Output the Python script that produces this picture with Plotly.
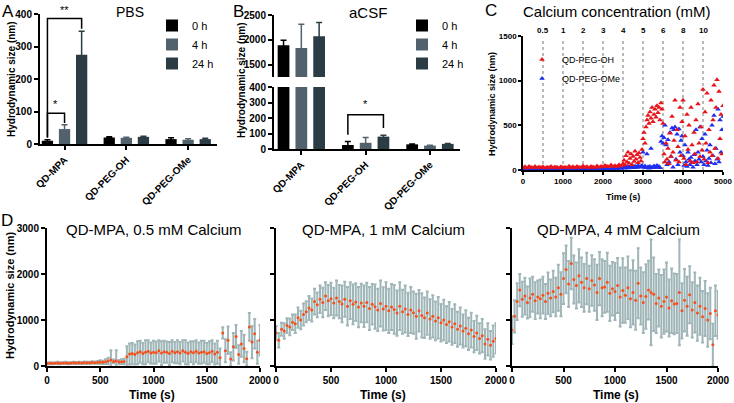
import plotly.graph_objects as go

W, H = 734, 403
FONT = "Arial, Liberation Sans, sans-serif"

# ---- panel A / B : bar charts ----
GROUPS = ["QD-MPA", "QD-PEG-OH", "QD-PEG-OMe"]
TIMEPOINTS = ["0 h", "4 h", "24 h"]
BAR_COLORS = ["#000000", "#52626d", "#2b3c45"]

PBS_0H = [10, 20, 15]
PBS_4H = [46, 19, 13]
PBS_24H = [275, 22, 15]
PBS_0H_ERR = [3, 2, 4]
PBS_4H_ERR = [13, 2, 3]
PBS_24H_ERR = [72, 2, 3]

ACSF_0H = [1890, 26, 30]
ACSF_4H = [1835, 40, 22]
ACSF_24H = [2070, 80, 33]
ACSF_0H_ERR = [100, 23, 3]
ACSF_4H_ERR = [480, 35, 3]
ACSF_24H_ERR = [280, 8, 3]

# ---- panel C : calcium titration ----
CA_TIMES = [500, 1000, 1500, 2000, 2500, 3000, 3500, 4000, 4500]
CA_LABELS = ["0.5", "1", "2", "3", "4", "5", "6", "8", "10"]

C_TIME = [0, 50, 100, 150, 200, 250, 300, 350, 400, 450, 500, 550, 600, 650, 700, 750, 800, 850, 900, 950,
          1000, 1050, 1100, 1150, 1200, 1250, 1300, 1350, 1400, 1450, 1500, 1550, 1600, 1650, 1700, 1750,
          1800, 1850, 1900, 1950, 2000, 2050, 2100, 2150, 2200, 2250, 2300, 2350, 2400, 2450,
          2500, 2525, 2550, 2575, 2600, 2625, 2650, 2675, 2700, 2725, 2750, 2775, 2800, 2825, 2850, 2875,
          2900, 2925, 2950, 2975, 3000, 3025, 3050, 3075, 3100, 3125, 3150, 3175, 3200, 3225, 3250, 3275,
          3300, 3325, 3350, 3375, 3400, 3425, 3450, 3475, 3500, 3525, 3550, 3575, 3600, 3625, 3650, 3675,
          3700, 3725, 3750, 3775, 3800, 3825, 3850, 3875, 3900, 3925, 3950, 3975, 4000, 4025, 4050, 4075,
          4100, 4125, 4150, 4175, 4200, 4225, 4250, 4275, 4300, 4325, 4350, 4375, 4400, 4425, 4450, 4475,
          4500, 4525, 4550, 4575, 4600, 4625, 4650, 4675, 4700, 4725, 4750, 4775, 4800, 4825, 4850, 4875,
          4900, 4925, 4950, 4975, 5000]
C_PEG_OH = [28, 35, 22, 40, 30, 26, 38, 24, 33, 29, 36, 21, 31, 27, 39, 25, 34, 30, 23, 37,
            28, 32, 26, 41, 29, 35, 24, 38, 31, 27, 44, 30, 36, 25, 40, 33, 28, 45, 31, 38,
            35, 50, 42, 36, 55, 40, 48, 38, 60, 45,
            70, 110, 55, 160, 90, 200, 75, 130, 180, 60, 150, 95, 210, 120, 170, 80, 190, 140, 100, 230,
            350, 420, 300, 480, 560, 610, 520, 650, 580, 700, 540, 620, 680, 590, 720, 640, 700, 560, 750, 680,
            520, 180, 90, 300, 120, 240, 70, 410, 150, 600, 200, 330, 780, 110, 450, 260, 90, 700, 160, 540,
            780, 130, 380, 60, 620, 230, 500, 100, 700, 280, 80, 420, 180, 560, 90, 740, 300, 150, 480, 220,
            900, 120, 650, 300, 860, 80, 450, 200, 780, 160, 560, 950, 240, 700, 1010, 130, 880, 350, 620, 180,
            720]
C_PEG_OME = [8, 12, 5, 15, 10, 7, 13, 9, 11, 6, 14, 8, 10, 12, 5, 9, 13, 7, 11, 10,
             8, 14, 6, 12, 9, 11, 7, 13, 10, 8, 12, 9, 15, 7, 11, 10, 13, 8, 12, 9,
             14, 10, 16, 12, 18, 14, 20, 15, 22, 18,
             25, 30, 20, 35, 28, 40, 22, 33, 45, 30, 38, 25, 42, 35, 28, 48, 32, 40, 36, 50,
             200, 30, 45, 25, 180, 35, 20, 40, 240, 30, 25, 45, 35, 28, 50, 30, 40, 25, 320, 380,
             300, 360, 500, 280, 60, 340, 90, 420, 150, 470, 30, 450, 480, 120, 400, 60, 460, 200, 330, 380,
             160, 50, 280, 90, 40, 200, 120, 60, 140, 80, 30, 170, 100, 450, 60, 200, 120, 480, 90, 350,
             150, 60, 400, 100, 220, 50, 130, 280, 80, 500, 160, 610, 70, 240, 120, 680, 90, 560, 200, 450,
             600]

# ---- panel D : QD-MPA kinetics ----
D_TIME = [0, 25, 50, 75, 100, 125, 150, 175, 200, 225, 250, 275, 300, 325, 350, 375, 400, 425, 450, 475,
          500, 525, 550, 575, 600, 625, 650, 675, 700, 725, 750, 775, 800, 825, 850, 875, 900, 925, 950, 975,
          1000, 1025, 1050, 1075, 1100, 1125, 1150, 1175, 1200, 1225, 1250, 1275, 1300, 1325, 1350, 1375,
          1400, 1425, 1450, 1475, 1500, 1525, 1550, 1575, 1600, 1625, 1650, 1675, 1700, 1725, 1750, 1775,
          1800, 1825, 1850, 1875, 1900, 1925, 1950, 1975, 2000]

D_05MM = [55, 60, 58, 62, 65, 60, 63, 66, 62, 64, 68, 65, 70, 66, 72, 68, 70, 75, 72, 78,
          85, 80, 95, 110, 130, 100, 110, 85, 95, 100, 200, 260,
          270, 250, 290, 310, 270, 300, 320, 280, 300, 290, 330, 280, 310, 300, 270, 320, 290, 310, 280, 330,
          300, 270, 310, 290, 320, 280, 300, 310, 270, 290, 320, 260, 300, 180, 720, 330, 560, 150, 420, 640,
          250, 480, 380, 160, 850, 520, 700, 300, 560]
D_05MM_ERR = [20, 22, 18, 20, 25, 22, 20, 24, 22, 20, 25, 22, 24, 20, 25, 22, 24, 26, 25, 28,
              40, 35, 50, 70, 210, 40, 230, 45, 50, 60, 230, 230,
              230, 220, 250, 240, 230, 260, 240, 230, 250, 240, 230, 260, 240, 230, 250, 240, 230, 250, 240, 230,
              260, 240, 230, 250, 240, 230, 250, 240, 230, 250, 240, 230, 250, 200, 120, 250, 300, 150, 300, 250,
              200, 280, 300, 150, 300, 350, 320, 250, 330]

D_1MM = [720, 560, 800, 760, 880, 850, 950, 920, 1050, 1000, 1120, 1180, 1260, 1220, 1400, 1330, 1450, 1380,
         1520, 1420, 1460, 1370, 1480, 1400, 1350, 1450, 1300, 1420, 1340, 1390, 1280, 1370,
         1300, 1380, 1250, 1340, 1290, 1220, 1360, 1240, 1300, 1200, 1280, 1230, 1150, 1300, 1180, 1240,
         1120, 1220, 1160, 1080, 1200, 1100, 1050, 1150, 1020, 1080, 980, 1050, 940, 1000, 900, 960,
         850, 920, 800, 870, 760, 820, 700, 780, 640, 720, 600, 660, 480, 580, 450, 540, 600]
D_1MM_ERR = [150, 160, 140, 170, 160, 180, 170, 200, 220, 200, 240, 230, 260, 250, 280, 270, 300, 320,
             300, 340, 350, 330, 380, 360, 400, 380, 420, 400, 430, 410, 440, 420,
             450, 430, 470, 440, 480, 460, 500, 470, 520, 480, 500, 530, 490, 520, 480, 510,
             470, 500, 460, 490, 450, 480, 440, 470, 430, 460, 420, 450, 410, 440, 400, 430,
             390, 420, 380, 400, 360, 390, 350, 380, 340, 370, 330, 360, 320, 350, 310, 340, 330]

D_4MM = [780, 1080, 1400, 1650, 1450, 1520, 1380, 1480, 1560, 1420, 1500, 1460, 1540, 1400, 1580, 1480,
         1620, 1500, 1700, 1560, 1900, 2100, 1780, 2230, 1880, 1750, 1960, 1820, 1700, 1900, 1680, 1860,
         1760, 1600, 1900, 1700, 1720, 1820, 1580, 1680, 1620, 1750, 1500, 1640, 1540, 1700, 1460, 1600,
         1430, 1800, 1520, 1380, 1510, 1650, 1600, 1560, 1360, 1480, 1300, 1400, 1500, 1260, 1420, 1350,
         1360, 1600, 1200, 1430, 1300, 1550, 1220, 1380, 1150, 1300, 1070, 1250, 1000, 1140, 460, 1200, 1110]
D_4MM_ERR = [300, 350, 400, 350, 380, 400, 350, 420, 380, 400, 360, 420, 400, 380, 450, 400,
             450, 420, 500, 480, 550, 520, 500, 560, 520, 500, 580, 540, 520, 560, 500, 550,
             560, 600, 580, 620, 560, 640, 600, 580, 620, 600, 640, 700, 600, 680, 620, 700,
             640, 760, 620, 660, 700, 640, 1150, 800, 640, 620, 680, 700, 750, 620, 700, 660,
             640, 1150, 600, 680, 640, 620, 600, 650, 600, 620, 560, 600, 580, 560, 460, 550, 520]

D_TITLES = ["QD-MPA, 0.5 mM Calcium", "QD-MPA, 1 mM Calcium", "QD-MPA, 4 mM Calcium"]

RED = "#e8141c"
BLUE = "#1f2ff0"
DOT = "#f4511e"
ERRBAR = "#9fb5b7"

BARGAP = 0.17
BARGROUPGAP = 0.34
SLOT = (1 - BARGAP) / 3


def fx(px):
    return px / W


def fy(py):
    return 1 - py / H


fig = go.Figure()

# A: PBS bars
pbs = [(PBS_0H, PBS_0H_ERR), (PBS_4H, PBS_4H_ERR), (PBS_24H, PBS_24H_ERR)]
for i, (vals, errs) in enumerate(pbs):
    fig.add_trace(go.Bar(
        x=GROUPS, y=vals, name=TIMEPOINTS[i], marker_color=BAR_COLORS[i], marker_line_width=0,
        error_y=dict(type="data", array=errs, color=BAR_COLORS[i], thickness=1.5, width=3),
        xaxis="x", yaxis="y", legend="legend",
    ))

# B: aCSF bars, drawn on a lower and an upper (broken) axis
acsf = [(ACSF_0H, ACSF_0H_ERR), (ACSF_4H, ACSF_4H_ERR), (ACSF_24H, ACSF_24H_ERR)]
for xa, ya, show in [("x2", "y2", True), ("x3", "y3", False)]:
    for i, (vals, errs) in enumerate(acsf):
        fig.add_trace(go.Bar(
            x=GROUPS, y=vals, name=TIMEPOINTS[i], marker_color=BAR_COLORS[i], marker_line_width=0,
            error_y=dict(type="data", array=errs, color=BAR_COLORS[i], thickness=1.5, width=3),
            xaxis=xa, yaxis=ya, legend="legend2", showlegend=show,
        ))

# C: scatter of both PEG coatings (red drawn on top)
fig.add_trace(go.Scatter(
    x=C_TIME, y=C_PEG_OME, mode="markers", name="QD-PEG-OMe",
    marker=dict(symbol="triangle-up", size=5, color=BLUE),
    xaxis="x4", yaxis="y4", legend="legend3", legendrank=2,
))
fig.add_trace(go.Scatter(
    x=C_TIME, y=C_PEG_OH, mode="markers", name="QD-PEG-OH",
    marker=dict(symbol="triangle-up", size=5, color=RED),
    xaxis="x4", yaxis="y4", legend="legend3", legendrank=1,
))

# D: three kinetics panels
d_series = [(D_05MM, D_05MM_ERR), (D_1MM, D_1MM_ERR), (D_4MM, D_4MM_ERR)]
for k, (vals, errs) in enumerate(d_series):
    fig.add_trace(go.Scatter(
        x=D_TIME, y=vals, mode="markers", showlegend=False,
        marker=dict(size=3, color=DOT),
        error_y=dict(type="data", array=errs, color=ERRBAR, thickness=2, width=1.5),
        xaxis=f"x{k + 5}", yaxis=f"y{k + 5}",
    ))

tick_bold = dict(family=FONT, size=10, color="black", weight="bold")
axis_base = dict(showline=True, linecolor="black", linewidth=2, ticks="outside", ticklen=4,
                 tickwidth=2, tickcolor="black", showgrid=False, zeroline=False, tickfont=tick_bold,
                 automargin=False)

cat_axis = dict(axis_base, type="category", tickangle=-45, categoryarray=GROUPS, categoryorder="array")

d_dom = [fy(366), fy(228)]
layout_axes = dict(
    xaxis=dict(cat_axis, domain=[fx(40), fx(217)], range=[-0.397, 2.467], anchor="y"),
    yaxis=dict(axis_base, domain=[fy(144), fy(14)], range=[0, 400], dtick=100, anchor="x"),
    xaxis2=dict(cat_axis, domain=[fx(274), fx(460)], range=[-0.425, 2.467], anchor="y2"),
    yaxis2=dict(axis_base, domain=[fy(149), fy(87)], range=[0, 400], dtick=100, anchor="x2"),
    xaxis3=dict(type="category", categoryarray=GROUPS, categoryorder="array", visible=False,
                domain=[fx(274), fx(460)], range=[-0.425, 2.467], anchor="y3", automargin=False),
    yaxis3=dict(axis_base, domain=[fy(77), fy(15)], range=[1250, 2500], tickvals=[1500, 2000, 2500],
                anchor="x3"),
    xaxis4=dict(axis_base, domain=[fx(523), fx(723)], range=[0, 5000], dtick=1000, linewidth=1.5,
                ticklen=3, tickwidth=1.5, tickfont=dict(tick_bold, size=8), anchor="y4",
                minor=dict(dtick=500, ticks="outside", ticklen=2, tickwidth=1, tickcolor="black")),
    yaxis4=dict(axis_base, domain=[fy(170), fy(36)], range=[0, 1500], dtick=500, linewidth=1.5,
                ticklen=3, tickwidth=1.5, tickfont=dict(tick_bold, size=8), anchor="x4"),
    xaxis5=dict(axis_base, domain=[fx(47), fx(260)], range=[0, 2000], dtick=500, anchor="y5"),
    yaxis5=dict(axis_base, domain=d_dom, range=[0, 3000], dtick=1000, anchor="x5"),
    xaxis6=dict(axis_base, domain=[fx(276), fx(496)], range=[0, 2000], dtick=500, anchor="y6"),
    yaxis6=dict(axis_base, domain=d_dom, range=[0, 3000], dtick=1000, showticklabels=False, anchor="x6"),
    xaxis7=dict(axis_base, domain=[fx(512), fx(718)], range=[0, 2000], dtick=500, anchor="y7"),
    yaxis7=dict(axis_base, domain=d_dom, range=[0, 3000], dtick=1000, showticklabels=False, anchor="x7"),
)

# significance brackets and calcium step markers
black = dict(color="black", width=1.5)
shapes = [
    dict(type="path", xref="x", yref="y", line=black,
         path=f"M {-SLOT} 20 L {-SLOT} 386 L {SLOT} 386 L {SLOT} 355"),
    dict(type="path", xref="x", yref="y", line=black,
         path=f"M {-SLOT} 20 L {-SLOT} 95 L 0 95 L 0 65"),
    dict(type="path", xref="x2", yref="y2", line=black,
         path=f"M {1 - SLOT} 92 L {1 - SLOT} 221 L {1 + SLOT} 221 L {1 + SLOT} 135"),
]
for t in CA_TIMES:
    shapes.append(dict(type="line", xref="x4", yref="y4", x0=t, x1=t, y0=0, y1=1480, layer="below",
                       line=dict(color="#777777", width=1, dash="dot")))


def ann(text, x, y, size, bold=False, angle=0, xref="paper", yref="paper", xanchor="center",
        yanchor="middle"):
    return dict(text=text, x=x, y=y, xref=xref, yref=yref, xanchor=xanchor, yanchor=yanchor,
                showarrow=False, textangle=angle,
                font=dict(family=FONT, size=size, color="black", weight="bold" if bold else "normal"))


annotations = [
    ann("A", fx(8), fy(11), 17),
    ann("B", fx(239), fy(11), 17),
    ann("C", fx(491), fy(10), 17),
    ann("D", fx(7), fy(221), 17),
    ann("PBS", fx(130), fy(12), 14),
    ann("aCSF", fx(368), fy(13), 15),
    ann("Calcium concentration (mM)", fx(617), fy(12), 15),
    ann("Hydrodynamic size (nm)", fx(12), fy(79), 10, bold=True, angle=-90),
    ann("Hydrodynamic size (nm)", fx(241), fy(80), 10, bold=True, angle=-90),
    ann("Hydrodynamic size (nm)", fx(492), fy(104), 9, bold=True, angle=-90),
    ann("Hydrodynamic size (nm)", fx(10), fy(296), 11, bold=True, angle=-90),
    ann("Time (s)", fx(623), fy(197), 9, bold=True),
    ann("**", 0, 388, 11, xref="x", yref="y", yanchor="bottom"),
    ann("*", -SLOT / 2, 98, 11, xref="x", yref="y", yanchor="bottom"),
    ann("*", 1, 240, 11, xref="x2", yref="y2", yanchor="bottom"),
]
for t, lab in zip(CA_TIMES, CA_LABELS):
    annotations.append(ann(lab, t, fy(30), 8, bold=True, xref="x4"))
for title, cx in zip(D_TITLES, [154, 383, 618]):
    annotations.append(ann(title, fx(cx), fy(229), 15))
for cx in [152, 383, 616]:
    annotations.append(ann("Time (s)", fx(cx), fy(395), 12, bold=True))

legend_base = dict(bgcolor="rgba(0,0,0,0)", borderwidth=0, xanchor="left", yanchor="top",
                   itemwidth=30, font=dict(family=FONT, size=11, color="black"))

fig.update_layout(
    width=W, height=H,
    margin=dict(l=0, r=0, t=0, b=0, pad=0, autoexpand=False),
    paper_bgcolor="white", plot_bgcolor="white",
    font=dict(family=FONT, color="black"),
    barmode="group", bargap=BARGAP, bargroupgap=BARGROUPGAP,
    legend=dict(legend_base, x=fx(152), y=fy(11)),
    legend2=dict(legend_base, x=fx(402), y=fy(11)),
    legend3=dict(legend_base, x=fx(522), y=fy(45), font=dict(family=FONT, size=9, color="black")),
    shapes=shapes,
    annotations=annotations,
    **layout_axes,
)

# the page body has a default margin; drop it so the figure sits at the window origin
fig.write_html("out.html", config={"displayModeBar": False},
               post_script="document.body.style.margin='0';")
